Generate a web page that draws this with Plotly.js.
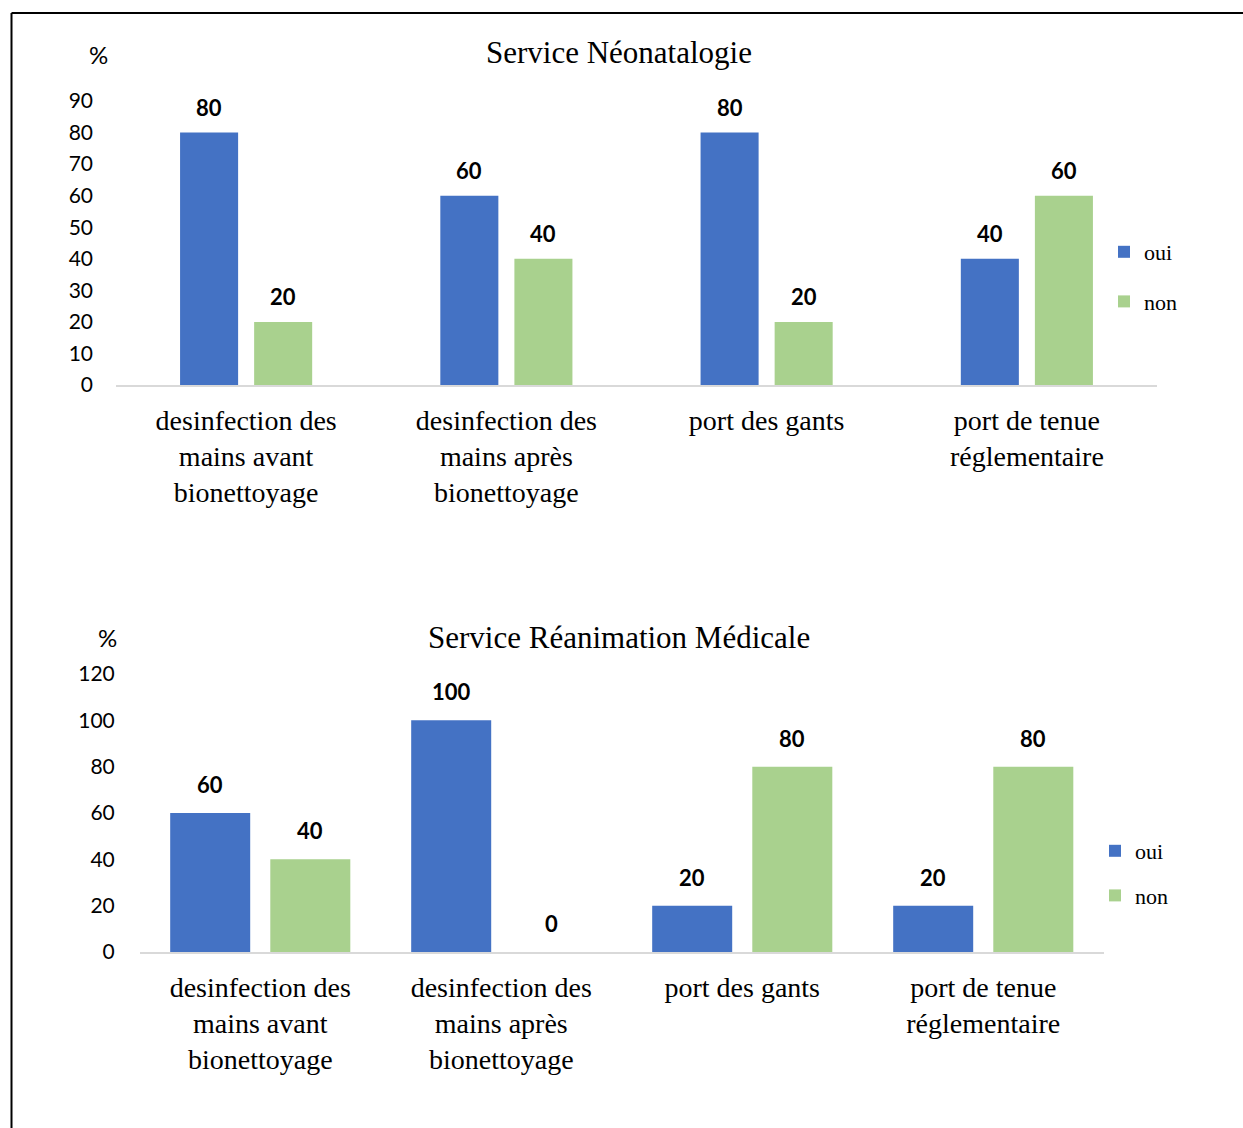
<!DOCTYPE html>
<html>
<head>
<meta charset="utf-8">
<script src="https://cdn.plot.ly/plotly-3.0.1.min.js"></script>
<style>
  html, body { margin: 0; padding: 0; background: #fff; }
  #chart { width: 1243px; height: 1128px; }
</style>
</head>
<body>
<div id="chart"></div>
<script>
// Categories shared by both services
const categories = [
  "desinfection des<br>mains avant<br>bionettoyage",
  "desinfection des<br>mains après<br>bionettoyage",
  "port des gants",
  "port de tenue<br>réglementaire"
];
const seriesNames = ["oui", "non"];

// Service Néonatalogie (%)
const neoOui = [80, 60, 80, 40];
const neoNon = [20, 40, 20, 60];

// Service Réanimation Médicale (%)
const reaOui = [60, 100, 20, 20];
const reaNon = [40, 0, 80, 80];

const titleNeo = "Service Néonatalogie";
const titleRea = "Service Réanimation Médicale";
const unitLabel = "%";

// Styling
const BLUE = "#4472C4";
const GREEN = "#A9D18E";
const SERIF = "Liberation Serif, Times New Roman, serif";
const SANS = "Lato, Open Sans, sans-serif";
const W = 1243, H = 1128;
const px = v => v / W;
const py = v => 1 - v / H;

// bar geometry per panel, in category units
const geo = {
  neo: { width: 0.223, center: 0.1423 },
  rea: { width: 0.332, center: 0.2077 }
};

function barTrace(name, y, xa, ya, legend, color, g, side) {
  return {
    type: "bar",
    name: name,
    x: categories,
    y: y,
    xaxis: xa,
    yaxis: ya,
    legend: legend,
    legendgroup: legend + name,
    marker: { color: color },
    width: g.width,
    offset: side * g.center - g.width / 2,
    hoverinfo: "y"
  };
}

const traces = [
  barTrace(seriesNames[0], neoOui, "x", "y", "legend", BLUE, geo.neo, -1),
  barTrace(seriesNames[1], neoNon, "x", "y", "legend", GREEN, geo.neo, 1),
  barTrace(seriesNames[0], reaOui, "x2", "y2", "legend2", BLUE, geo.rea, -1),
  barTrace(seriesNames[1], reaNon, "x2", "y2", "legend2", GREEN, geo.rea, 1)
];

// value labels above each bar
function valueLabels(values, xref, yref, g, side, shift) {
  return values.map((v, i) => ({
    xref: xref, yref: yref,
    x: i + side * g.center, y: v,
    text: String(v),
    showarrow: false,
    yanchor: "bottom",
    yshift: shift,
    font: { family: SANS, size: 22, weight: "bold", color: "#000" }
  }));
}

const annotations = [
  ...valueLabels(neoOui, "x", "y", geo.neo, -1, 10),
  ...valueLabels(neoNon, "x", "y", geo.neo, 1, 10),
  ...valueLabels(reaOui, "x2", "y2", geo.rea, -1, 13),
  ...valueLabels(reaNon, "x2", "y2", geo.rea, 1, 13),
  { xref: "paper", yref: "paper", x: px(619), y: py(52), text: titleNeo, showarrow: false,
    xanchor: "center", yanchor: "middle", font: { family: SERIF, size: 31, color: "#000" } },
  { xref: "paper", yref: "paper", x: px(619), y: py(637), text: titleRea, showarrow: false,
    xanchor: "center", yanchor: "middle", font: { family: SERIF, size: 31, color: "#000" } },
  { xref: "paper", yref: "paper", x: px(98), y: py(55), text: unitLabel, showarrow: false,
    xanchor: "center", yanchor: "middle", font: { family: SANS, size: 24, color: "#000" } },
  { xref: "paper", yref: "paper", x: px(107), y: py(637), text: unitLabel, showarrow: false,
    xanchor: "center", yanchor: "middle", font: { family: SANS, size: 24, color: "#000" } }
];

const xAxisStyle = {
  type: "category",
  showgrid: false,
  zeroline: false,
  showline: true,
  linecolor: "#d9d9d9",
  linewidth: 2,
  ticks: "",
  tickangle: 0,
  ticklabelstandoff: 9,
  tickfont: { family: SERIF, size: 28, color: "#000" },
  fixedrange: true
};
const yAxisStyle = {
  showgrid: false,
  zeroline: false,
  showline: false,
  ticks: "",
  tickfont: { family: SANS, size: 21, color: "#000" },
  fixedrange: true
};

const legendStyle = {
  orientation: "v",
  xanchor: "left",
  yanchor: "top",
  font: { family: SERIF, size: 22, color: "#000" },
  bgcolor: "rgba(0,0,0,0)",
  traceorder: "grouped",
  itemclick: false,
  itemdoubleclick: false
};

const layout = {
  width: W,
  height: H,
  margin: { l: 0, r: 0, t: 0, b: 0 },
  paper_bgcolor: "#fff",
  plot_bgcolor: "#fff",
  barmode: "group",
  showlegend: true,
  xaxis: Object.assign({}, xAxisStyle, { domain: [px(116), px(1157)], anchor: "y" }),
  yaxis: Object.assign({}, yAxisStyle, { domain: [py(385), py(101)], range: [0, 90], dtick: 10,
    anchor: "x", ticklabelstandoff: 22 }),
  xaxis2: Object.assign({}, xAxisStyle, { domain: [px(139.75), px(1103.75)], anchor: "y2" }),
  yaxis2: Object.assign({}, yAxisStyle, { domain: [py(952), py(674)], range: [0, 120], dtick: 20,
    anchor: "x2", ticklabelstandoff: 24 }),
  legend: Object.assign({}, legendStyle, { x: px(1104), y: py(231), tracegroupgap: 18 }),
  legend2: Object.assign({}, legendStyle, { x: px(1095), y: py(830), tracegroupgap: 13 }),
  annotations: annotations,
  shapes: [
    { type: "line", xref: "paper", yref: "paper", x0: px(11.5), x1: 1.02, y0: py(13), y1: py(13),
      line: { color: "#000", width: 2 } },
    { type: "line", xref: "paper", yref: "paper", x0: px(11.5), x1: px(11.5), y0: py(13), y1: -0.02,
      line: { color: "#000", width: 2 } }
  ]
};

Plotly.newPlot("chart", traces, layout, { displayModeBar: false, staticPlot: true });
</script>
</body>
</html>
